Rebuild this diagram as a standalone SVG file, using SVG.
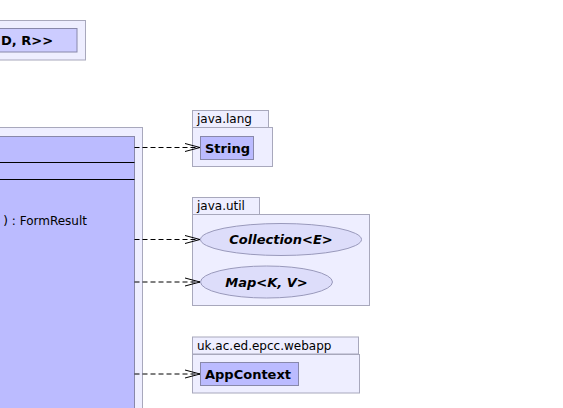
<svg xmlns="http://www.w3.org/2000/svg" width="563" height="408" viewBox="0 0 563 408">
<defs>
<style>
.pkg{fill:#eeeeff;stroke:#a8a8bc;stroke-width:1}
.cls{fill:#bbbbff;stroke:#8888aa;stroke-width:1}
.ifc{fill:#ddddfa;stroke:#9999bb;stroke-width:1}
.t{font-family:"DejaVu Sans",sans-serif;font-size:12px;fill:#000}
.b{font-family:"DejaVu Sans",sans-serif;font-size:13px;font-weight:bold;fill:#000}
.bi{font-family:"DejaVu Sans",sans-serif;font-size:13px;font-weight:bold;font-style:italic;fill:#000}
.dep{fill:none;stroke:#000;stroke-width:1;stroke-dasharray:5,3}
</style>
<marker id="arr" markerWidth="16" markerHeight="10" refX="15" refY="5" orient="auto" markerUnits="userSpaceOnUse">
<path d="M0,1 L15,5 L0,9" fill="none" stroke="#000" stroke-width="1"/>
</marker>
</defs>
<g id="top-class">
<rect class="pkg" x="-5" y="20.5" width="90.5" height="39.5"/>
<rect x="-5" y="28.5" width="82" height="23.5" fill="#ccccff" stroke="#8888aa"/>
<text class="b" x="1" y="45">D, R&gt;&gt;</text>
</g>
<g id="main-class">
<rect class="pkg" x="-5" y="127.5" width="147.5" height="290"/>
<rect class="cls" x="-5" y="136.5" width="139.5" height="280"/>
<line x1="-5" y1="162.5" x2="134.5" y2="162.5" stroke="#000"/>
<line x1="-5" y1="179.5" x2="134.5" y2="179.5" stroke="#000"/>
<text class="t" x="87" y="225" text-anchor="end">) : FormResult</text>
</g>
<g id="pkg-java-lang">
<rect class="pkg" x="192.5" y="110.5" width="76" height="17"/>
<rect class="pkg" x="192.5" y="127.5" width="80" height="39"/>
<text class="t" x="197" y="123">java.lang</text>
<rect class="cls" x="200.5" y="136.5" width="53" height="23"/>
<text class="b" x="205" y="152.5">String</text>
</g>
<g id="pkg-java-util">
<rect class="pkg" x="192.5" y="197.5" width="67" height="17"/>
<rect class="pkg" x="192.5" y="214.5" width="177" height="91"/>
<text class="t" x="197" y="210">java.util</text>
<ellipse class="ifc" cx="281" cy="239.5" rx="80.5" ry="16"/>
<text class="bi" x="281" y="244" text-anchor="middle">Collection&lt;E&gt;</text>
<ellipse class="ifc" cx="266.5" cy="282" rx="66" ry="16"/>
<text class="bi" x="266.5" y="287" text-anchor="middle">Map&lt;K, V&gt;</text>
</g>
<g id="pkg-webapp">
<rect class="pkg" x="192.5" y="337" width="166" height="17"/>
<rect class="pkg" x="192.5" y="354.5" width="167" height="38.5"/>
<text class="t" x="197" y="350">uk.ac.ed.epcc.webapp</text>
<rect class="cls" x="200.5" y="362.5" width="98" height="23"/>
<text class="b" x="205" y="379">AppContext</text>
</g>
<g id="connectors">
<line class="dep" x1="134.5" y1="147.5" x2="200" y2="147.5" marker-end="url(#arr)"/>
<line class="dep" x1="134.5" y1="239.5" x2="200" y2="239.5" marker-end="url(#arr)"/>
<line class="dep" x1="134.5" y1="282" x2="200" y2="282" marker-end="url(#arr)"/>
<line class="dep" x1="134.5" y1="374" x2="200" y2="374" marker-end="url(#arr)"/>
</g>
</svg>
